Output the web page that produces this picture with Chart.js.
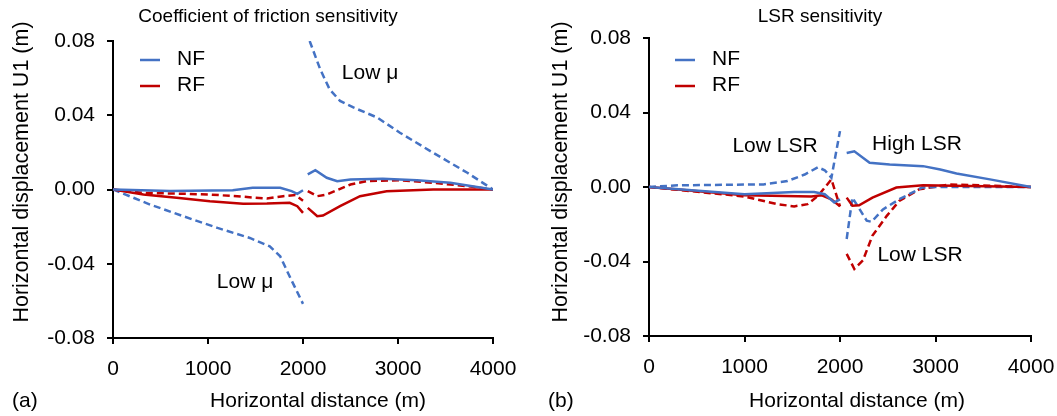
<!DOCTYPE html>
<html>
<head>
<meta charset="utf-8">
<script src="https://cdn.jsdelivr.net/npm/chart.js@4.4.0/dist/chart.umd.min.js"></script>
<style>
    html, body { margin: 0; background: #fff; overflow: hidden; }
    #wrap { position: relative; width: 1057px; height: 416px; overflow: hidden; }
    .panel { position: absolute; top: 0; height: 416px; }
    #panelA { left: 0; width: 530px; }
    #panelB { left: 528px; width: 540px; }
</style>
</head>
<body>
<div id="wrap">
    <div class="panel" id="panelA"><canvas id="chartA"></canvas></div>
    <div class="panel" id="panelB"><canvas id="chartB"></canvas></div>
</div>
<script>
// Datos (null = corte de la linea en la falla)
// Panel (a): sensibilidad al coeficiente de friccion
const aNfX = [0, 600, 1260, 1470, 1760, 1880, 1940, 2000, 2040, 2050, 2130, 2250, 2360, 2500, 2840, 3200, 3550, 4000];
const aNfY = [0, -0.0008, -0.0004, 0.0009, 0.0009, -0.0009, -0.0023, -0.0004, null, 0.0081, 0.0104, 0.0063, 0.0045, 0.0054, 0.0058, 0.0050, 0.0036, 0];

const aRfX = [0, 320, 670, 1020, 1370, 1620, 1860, 1940, 2000, 2030, 2050, 2150, 2210, 2390, 2600, 2880, 3370, 4000];
const aRfY = [0, -0.0027, -0.0045, -0.0063, -0.0077, -0.0076, -0.0072, -0.009, -0.0126, null, -0.0099, -0.0144, -0.014, -0.009, -0.0036, -0.0009, 0, 0];

const aNfLowX = [0, 390, 740, 1100, 1440, 1650, 1760, 1860, 2000, 2040, 2070, 2180, 2280, 2390, 2530, 2780, 3020, 3370, 3730, 4000];
const aNfLowY = [0, -0.0081, -0.0144, -0.0207, -0.0261, -0.0306, -0.036, -0.0469, -0.0616, null, 0.08, 0.0649, 0.054, 0.0477, 0.0442, 0.0388, 0.0306, 0.0198, 0.009, 0];

const aRfLowX = [0, 320, 670, 1020, 1370, 1620, 1790, 1920, 2000, 2030, 2050, 2150, 2250, 2500, 2670, 3020, 3370, 3730, 4000];
const aRfLowY = [0, -0.0018, -0.0022, -0.0027, -0.0039, -0.0049, -0.0036, -0.003, -0.006, null, -0.0009, -0.0036, -0.0027, 0.0027, 0.0045, 0.005, 0.0036, 0.0018, 0];

// Panel (b): sensibilidad LSR
const bNfX = [0, 1000, 1520, 1730, 1840, 1940, 2000, 2035, 2070, 2150, 2310, 2520, 2870, 3050, 3220, 3570, 4000];
const bNfY = [0, -0.0039, -0.0027, -0.0027, -0.0039, -0.0083, -0.0066, null, 0.0183, 0.0192, 0.013, 0.0121, 0.0112, 0.0094, 0.0073, 0.0041, 0];

const bRfX = [0, 1000, 1700, 1810, 1910, 2000, 2035, 2070, 2130, 2200, 2340, 2590, 2870, 4000];
const bRfY = [0, -0.0044, -0.0051, -0.0045, -0.0066, -0.0104, null, -0.0057, -0.0101, -0.0098, -0.0057, -0.0003, 0.0009, 0];

const bNfLowX = [0, 300, 1200, 1450, 1630, 1770, 1840, 1910, 2000, 2035, 2070, 2130, 2280, 2330, 2450, 2620, 2860, 3000, 4000];
const bNfLowY = [0, 0.0009, 0.0014, 0.0032, 0.0067, 0.0106, 0.009, 0.005, 0.030, null, -0.0279, -0.0057, -0.0181, -0.0187, -0.012, -0.0066, -0.0003, 0, 0];

const bRfLowX = [0, 1000, 1340, 1520, 1660, 1770, 1910, 2000, 2035, 2070, 2150, 2240, 2340, 2490, 2620, 2830, 3150, 4000];
const bRfLowY = [0, -0.0051, -0.0092, -0.0104, -0.0092, -0.0048, 0.0041, -0.0104, null, -0.0359, -0.044, -0.0394, -0.0261, -0.0155, -0.0075, -0.0012, 0.0014, 0];

// Ejes
const xTicks = [0, 1000, 2000, 3000, 4000];
const yTicks = [-0.08, -0.04, 0, 0.04, 0.08];

const FONT = '"Liberation Sans", Arial, sans-serif';
const BLUE = '#4472C4';
const RED = '#C00000';

function pts(xs, ys) {
    return xs.map((x, i) => ({ x: x, y: ys[i] }));
}

function serie(xs, ys, color, dashed) {
    return {
        data: pts(xs, ys),
        borderColor: color,
        borderWidth: 2.5,
        borderDash: dashed ? [7, 4] : [],
        pointRadius: 0,
        fill: false,
        tension: 0,
        spanGaps: false
    };
}

// Textos y leyenda dibujados a mano
const panelText = {
    id: 'panelText',
    afterDraw(chart, args, opts) {
        const ctx = chart.ctx;
        ctx.save();
        ctx.fillStyle = '#000';
        ctx.textBaseline = 'middle';
        opts.items.forEach(t => {
            ctx.save();
            ctx.font = t.size + 'px ' + FONT;
            ctx.translate(t.x, t.y);
            if (t.rot) ctx.rotate(t.rot);
            ctx.textAlign = t.align || 'center';
            ctx.fillText(t.text, 0, 0);
            ctx.restore();
        });
        opts.legend.forEach(l => {
            ctx.strokeStyle = l.color;
            ctx.lineWidth = 2.5;
            ctx.beginPath();
            ctx.moveTo(l.x, l.y);
            ctx.lineTo(l.x + 20, l.y);
            ctx.stroke();
            ctx.font = '21px ' + FONT;
            ctx.textAlign = 'left';
            ctx.fillStyle = '#000';
            ctx.fillText(l.text, l.x + 37, l.y - 1);
        });
        ctx.restore();
    }
};

function crearGrafico(id, datasets, box, texts) {
    return new Chart(document.getElementById(id), {
        type: 'line',
        data: { datasets: datasets },
        options: {
            responsive: true,
            maintainAspectRatio: false,
            animation: false,
            layout: { padding: { left: 0, top: box.top, right: box.right, bottom: 0 } },
            plugins: {
                legend: { display: false },
                tooltip: { enabled: false },
                panelText: texts
            },
            scales: {
                x: {
                    type: 'linear',
                    min: xTicks[0],
                    max: xTicks[xTicks.length - 1],
                    afterBuildTicks: s => { s.ticks = xTicks.map(v => ({ value: v })); },
                    ticks: {
                        color: '#000',
                        font: { family: FONT, size: 21 },
                        padding: 13,
                        maxRotation: 0,
                        callback: v => String(v)
                    },
                    grid: { drawOnChartArea: false, color: '#000', lineWidth: 2, tickLength: 6 },
                    border: { color: '#000', width: 2 },
                    afterFit: s => { s.height = box.xh; }
                },
                y: {
                    type: 'linear',
                    min: yTicks[0],
                    max: yTicks[yTicks.length - 1],
                    afterBuildTicks: s => { s.ticks = yTicks.map(v => ({ value: v })); },
                    ticks: {
                        color: '#000',
                        font: { family: FONT, size: 21 },
                        padding: 12,
                        callback: v => (Math.abs(v) < 1e-9 ? 0 : v).toFixed(2)
                    },
                    grid: { drawOnChartArea: false, color: '#000', lineWidth: 2, tickLength: 6 },
                    border: { color: '#000', width: 2 },
                    afterFit: s => { s.width = box.yw; }
                }
            }
        },
        plugins: [panelText]
    });
}

document.addEventListener('DOMContentLoaded', function() {
    crearGrafico('chartA', [
        serie(aNfX, aNfY, BLUE, false),
        serie(aRfX, aRfY, RED, false),
        serie(aNfLowX, aNfLowY, BLUE, true),
        serie(aRfLowX, aRfLowY, RED, true)
    ], { top: 41, right: 37, yw: 113, xh: 78 }, {
        items: [
            { text: 'Coefficient of friction sensitivity', x: 268, y: 17, size: 19 },
            { text: 'Horizontal displacement U1 (m)', x: 22, y: 172, size: 21.5, rot: -Math.PI / 2 },
            { text: 'Horizontal distance (m)', x: 318, y: 401, size: 21 },
            { text: '(a)', x: 12, y: 401, size: 21, align: 'left' },
            { text: 'Low μ', x: 370, y: 73, size: 21 },
            { text: 'Low μ', x: 245, y: 282, size: 21 }
        ],
        legend: [
            { text: 'NF', color: BLUE, x: 140, y: 60 },
            { text: 'RF', color: RED, x: 140, y: 86 }
        ]
    });

    crearGrafico('chartB', [
        serie(bNfX, bNfY, BLUE, false),
        serie(bRfX, bRfY, RED, false),
        serie(bNfLowX, bNfLowY, BLUE, true),
        serie(bRfLowX, bRfLowY, RED, true)
    ], { top: 38, right: 37, yw: 121, xh: 80 }, {
        items: [
            { text: 'LSR sensitivity', x: 292, y: 17, size: 19 },
            { text: 'Horizontal displacement U1 (m)', x: 33, y: 172, size: 21.5, rot: -Math.PI / 2 },
            { text: 'Horizontal distance (m)', x: 329, y: 401, size: 21 },
            { text: '(b)', x: 20, y: 401, size: 21, align: 'left' },
            { text: 'Low LSR', x: 247, y: 146, size: 21 },
            { text: 'High LSR', x: 389, y: 144, size: 21 },
            { text: 'Low LSR', x: 392, y: 255, size: 21 }
        ],
        legend: [
            { text: 'NF', color: BLUE, x: 147, y: 60 },
            { text: 'RF', color: RED, x: 147, y: 86 }
        ]
    });
});
</script>
</body>
</html>
